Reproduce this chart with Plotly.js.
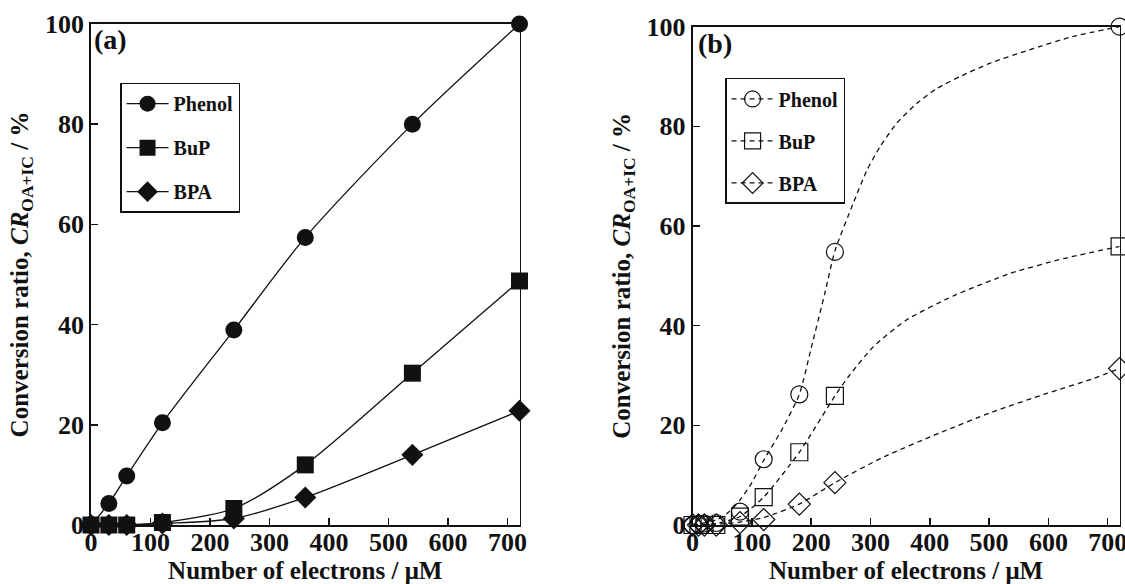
<!DOCTYPE html>
<html>
<head>
<meta charset="utf-8">
<script src="https://cdn.plot.ly/plotly-3.0.1.min.js"></script>
<style>
  html, body { margin: 0; padding: 0; background: #ffffff; }
  #chart { width: 1125px; height: 584px; }
</style>
</head>
<body>
<div id="chart"></div>
<script>
// ---------- Data ----------
// Panel (a): filled markers, solid smooth lines
const electronsA = [0, 30, 60, 120, 240, 360, 540, 720];
const phenolA    = [0, 4.3, 9.8, 20.4, 38.9, 57.4, 80, 100];
const bupA       = [0, 0, 0, 0.5, 3.3, 12.0, 30.3, 48.7];
const bpaA       = [0, 0, 0, 0.3, 1.3, 5.5, 14.0, 22.8];

// Panel (b): open markers
const electronsB = [0, 10, 20, 40, 80, 120, 180, 240, 720];
const phenolB    = [0, 0.2, 0.3, 0.4, 2.7, 13.2, 26.2, 54.8, 100];
const bupB       = [0, 0, 0, 0, 1.7, 5.6, 14.6, 25.9, 55.9];
const bpaB       = [0, 0, 0, 0, 0.5, 1.1, 4.2, 8.5, 31.4];

// Panel (b): dashed fitted curves
const fitPhenolX = [0, 40, 60, 80, 100, 120, 150, 180, 200, 223, 240, 271, 294, 316, 344, 378, 412, 451, 502, 567, 640, 720];
const fitPhenolY = [0, 1, 2.5, 5, 8.5, 13, 19, 26.2, 35.5, 46.5, 55, 64.6, 71.2, 75.9, 80.6, 84.6, 87.6, 90, 92.7, 95.3, 98, 100];
const fitBupX    = [0, 40, 80, 120, 180, 240, 263, 305, 360, 440, 536, 627, 720];
const fitBupY    = [0, 0.3, 1.7, 5.6, 14.6, 25.9, 29.8, 35.8, 41.1, 46, 50.5, 53.5, 55.9];
const fitBpaX    = [0, 60, 80, 120, 180, 240, 323, 415, 506, 597, 676, 720];
const fitBpaY    = [0, 0.3, 0.6, 1.5, 4.2, 8.5, 13.7, 18.4, 22.7, 26.4, 29.4, 31.4];

const seriesNames = ['Phenol', 'BuP', 'BPA'];
const xTicks = [0, 100, 200, 300, 400, 500, 600, 700];
const yTicks = [0, 20, 40, 60, 80, 100];

// ---------- Styling ----------
const FONT = 'Liberation Serif';
const INK = '#111111';

const traces = [];
const aYs = [phenolA, bupA, bpaA];
const filledSymbols = ['circle', 'square', 'diamond'];
aYs.forEach((ys, i) => {
  traces.push({
    x: electronsA, y: ys, xaxis: 'x', yaxis: 'y',
    name: seriesNames[i], legend: 'legend', legendgroup: 'a' + i,
    mode: 'lines+markers', cliponaxis: false,
    line: { color: INK, width: 1.3, shape: 'spline', smoothing: 0.8 },
    marker: { symbol: filledSymbols[i], size: 17, color: INK, line: { width: 0 } }
  });
});

const bYs = [phenolB, bupB, bpaB];
const fitXs = [fitPhenolX, fitBupX, fitBpaX];
const fitYs = [fitPhenolY, fitBupY, fitBpaY];
const openSymbols = ['circle-open', 'square-open', 'diamond-open'];
const DASH = '5px,4px';
bYs.forEach((ys, i) => {
  traces.push({
    x: electronsB, y: ys, xaxis: 'x2', yaxis: 'y2',
    name: seriesNames[i], showlegend: false, legendgroup: 'b' + i,
    mode: 'markers', cliponaxis: false,
    marker: { symbol: openSymbols[i], size: 17, color: INK, line: { width: 1.2, color: INK } }
  });
  traces.push({
    x: fitXs[i], y: fitYs[i], xaxis: 'x2', yaxis: 'y2',
    name: seriesNames[i] + ' fit', showlegend: false, legendgroup: 'b' + i,
    mode: 'lines', cliponaxis: false,
    line: { color: INK, width: 1.3, dash: DASH, shape: 'spline', smoothing: 0.6 }
  });
  // legend entry (dashed line with open marker)
  traces.push({
    x: [null], y: [null], xaxis: 'x2', yaxis: 'y2',
    name: seriesNames[i], legend: 'legend2', legendgroup: 'b' + i,
    mode: 'lines+markers',
    line: { color: INK, width: 1.3, dash: DASH },
    marker: { symbol: openSymbols[i], size: 17, color: INK, line: { width: 1.2, color: INK } }
  });
});

const tickFont = { family: FONT, size: 26, weight: 700, color: INK };
const titleFont = { family: FONT, size: 25, weight: 700, color: INK };

function xAxis(domain, anchor) {
  return {
    domain: domain, anchor: anchor, range: [0, 720],
    tickmode: 'array', tickvals: xTicks, ticktext: xTicks.map(String),
    ticks: 'inside', ticklen: 7, tickwidth: 1.5, tickcolor: INK,
    showline: true, linewidth: 1.8, linecolor: INK, mirror: true,
    showgrid: false, zeroline: false, tickfont: tickFont,
    ticklabeloverflow: 'allow', ticklabelstandoff: -7,
    title: { text: 'Number of electrons / μM', font: titleFont, standoff: 8 }
  };
}
function yAxis(domain, anchor) {
  return {
    domain: domain, anchor: anchor, range: [0, 100],
    tickmode: 'array', tickvals: yTicks, ticktext: yTicks.map(String),
    ticks: 'inside', ticklen: 7, tickwidth: 1.5, tickcolor: INK,
    showline: true, linewidth: 1.8, linecolor: INK, mirror: true,
    showgrid: false, zeroline: false, tickfont: tickFont,
    ticklabeloverflow: 'allow',
    title: { text: 'Conversion ratio, <i>CR</i><sub>OA+IC</sub> / %', font: titleFont, standoff: 9 }
  };
}

const legendBase = {
  xanchor: 'left', yanchor: 'top', bgcolor: '#ffffff',
  bordercolor: INK, borderwidth: 1.5,
  font: { family: FONT, size: 20, weight: 700, color: INK },
  traceorder: 'grouped', itemwidth: 42
};

const layout = {
  width: 1125, height: 584,
  margin: { l: 0, r: 0, t: 0, b: 0 },
  paper_bgcolor: '#ffffff', plot_bgcolor: '#ffffff',
  showlegend: true,
  xaxis: xAxis([0.0809, 0.4618], 'y'),
  yaxis: yAxis([0.101, 0.959], 'x'),
  xaxis2: xAxis([0.6156, 0.9952], 'y2'),
  yaxis2: yAxis([0.101, 0.9543], 'x2'),
  legend: Object.assign({}, legendBase, { x: 0.1067, y: 0.8585, tracegroupgap: 15 }),
  legend2: Object.assign({}, legendBase, { x: 0.6445, y: 0.8665, tracegroupgap: 13 }),
  annotations: [
    { text: '(a)', xref: 'paper', yref: 'paper', x: 0.0818, y: 0.932, xanchor: 'left', yanchor: 'middle',
      showarrow: false, font: { family: FONT, size: 28, weight: 700, color: INK } },
    { text: '(b)', xref: 'paper', yref: 'paper', x: 0.6184, y: 0.926, xanchor: 'left', yanchor: 'middle',
      showarrow: false, font: { family: FONT, size: 28, weight: 700, color: INK } }
  ]
};

Plotly.newPlot('chart', traces, layout, { displayModeBar: false, staticPlot: true });
</script>
</body>
</html>
